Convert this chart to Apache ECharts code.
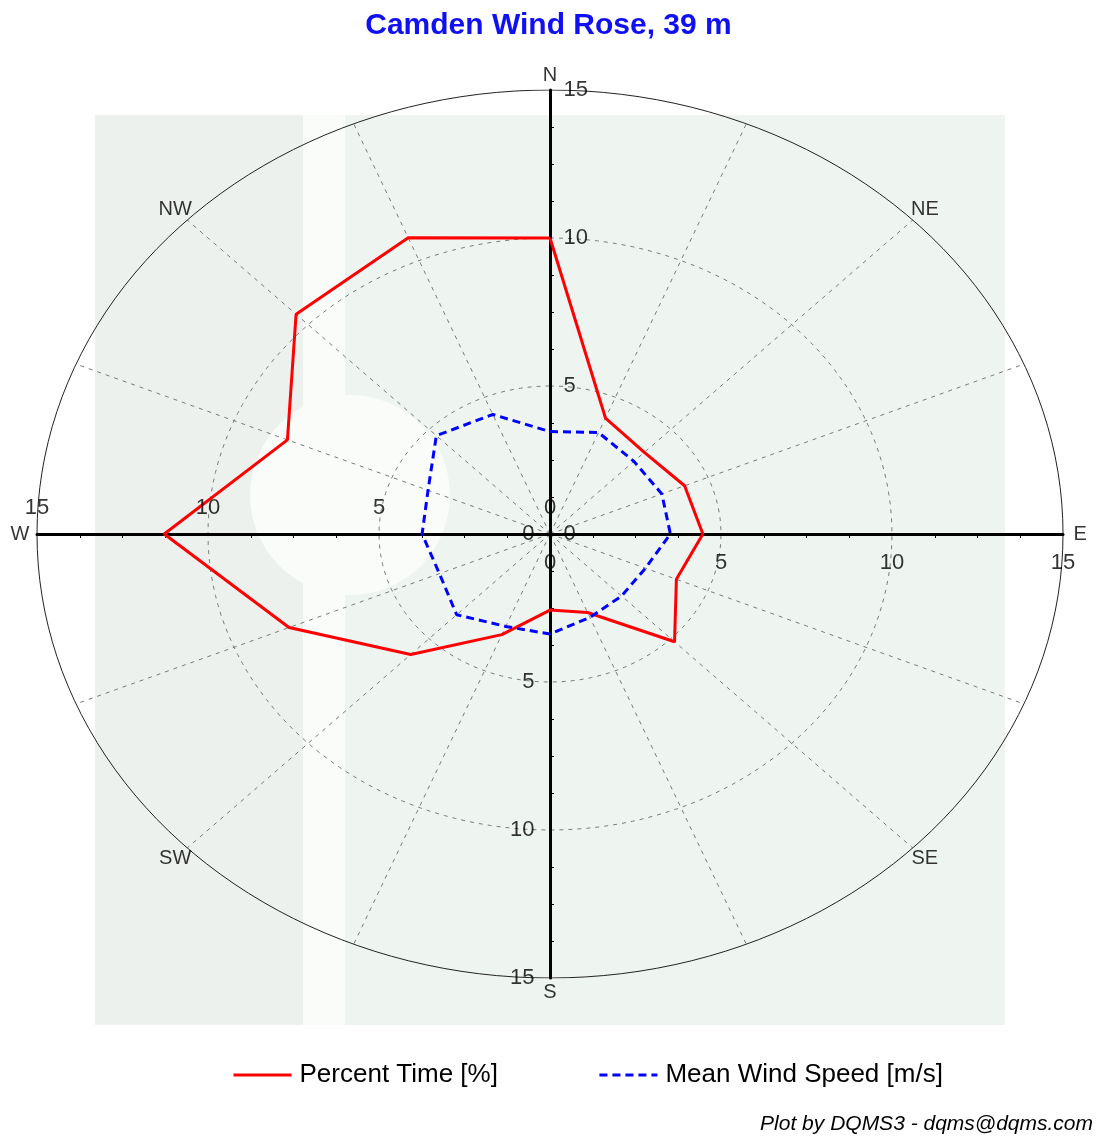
<!DOCTYPE html>
<html><head><meta charset="utf-8">
<script src="https://cdn.jsdelivr.net/npm/echarts@6/dist/echarts.min.js"></script>
<style>html,body{margin:0;padding:0;background:#fff}#c{width:1097px;height:1136px}</style>
</head><body><div id="c"></div>
<script>
// ---- data ----
const directions = ['N','NNE','NE','ENE','E','ESE','SE','SSE','S','SSW','SW','WSW','W','WNW','NW','NNW'];
const percentTime = [10.0, 4.24, 3.9, 4.26, 4.47, 4.0, 5.15, 2.87, 2.57, 3.68, 5.76, 8.26, 11.28, 8.31, 10.5, 10.83];
const meanSpeed   = [3.46, 3.71, 3.47, 3.54, 3.52, 3.02, 2.96, 3.05, 3.38, 3.38, 3.86, 3.5, 3.74, 3.86, 4.7, 4.37];
const ringValues = [5, 10, 15];
const tickValues = [0, 5, 10, 15];
const axisMax = 15;
const tickStep = 5;
const compassLabels = ['N','NE','E','SE','S','SW','W','NW'];
const seriesNames = ['Percent Time [%]', 'Mean Wind Speed [m/s]'];
const titleText = 'Camden Wind Rose, 39 m';
const footerText = 'Plot by DQMS3 - dqms@dqms.com';

// ---- helpers (compass bearing -> cartesian data units) ----
function toXY(r, deg) { const a = deg * Math.PI / 180; return [r * Math.sin(a), r * Math.cos(a)]; }
const step = 360 / directions.length;
function polygon(vals) { const p = vals.map((v, i) => toXY(v, i * step)); p.push(p[0]); return p; }
function ring(r) { const p = []; for (let d = 0; d <= 360; d += 2) p.push(toXY(r, d)); return p; }

const FONT = 'Liberation Sans, Arial, sans-serif';
const chart = echarts.init(document.getElementById('c'), null, { renderer: 'canvas' });

const ringSeries = ringValues.map(r => ({
  type: 'line', data: ring(r), symbol: 'none', silent: true, z: 1,
  lineStyle: r === axisMax ? { color: '#222', width: 1, type: 'solid' } : { color: '#7a7a7a', width: 1, type: [4, 5] }
}));

// tick labels along the four half-axes, placed through the axes' scales
const tickLabelSets = [
  { pos: 'bottom', dist: 17, xy: v => [v, 0] },
  { pos: 'top',    dist: 15, xy: v => [-v, 0] },
  { pos: 'right',  dist: 13, xy: v => [0, v] },
  { pos: 'left',   dist: 15, xy: v => [0, -v] }
];
const tickLabelSeries = tickLabelSets.map(s => ({
  type: 'scatter', silent: true, clip: false, symbolSize: 1, z: 6,
  itemStyle: { color: 'rgba(0,0,0,0)' },
  label: { show: true, position: s.pos, distance: s.dist, formatter: p => p.name,
    color: '#000', fontSize: 22, fontFamily: FONT },
  labelLayout: { hideOverlap: false },
  data: tickValues.map(v => ({ name: String(v), value: s.xy(v) }))
}));

const hiddenLabel = { show: false };

chart.setOption({
  animation: false,
  backgroundColor: '#ffffff',
  title: { text: titleText, left: 'center', top: 11, padding: 0,
    textStyle: { color: '#1010f4', fontSize: 30, fontWeight: 'bold', fontFamily: FONT } },
  grid: { left: 37, top: 90, width: 1026, height: 888, containLabel: false, outerBoundsMode: 'none' },
  xAxis: [
    { type: 'value', z: 3, min: -axisMax, max: axisMax, interval: tickStep, position: 'bottom',
      axisLine: { onZero: true, onZeroAxisIndex: 0, lineStyle: { color: '#000', width: 3 } },
      axisTick: { show: false },
      minorTick: { show: true, splitNumber: 4, length: 4, lineStyle: { color: '#000', width: 1 } },
      splitLine: { show: false }, minorSplitLine: { show: false }, axisLabel: hiddenLabel }
  ],
  yAxis: [
    { type: 'value', z: 3, min: -axisMax, max: axisMax, interval: tickStep, position: 'right',
      axisLine: { onZero: true, onZeroAxisIndex: 0, lineStyle: { color: '#000', width: 3 } },
      axisTick: { show: false },
      minorTick: { show: true, splitNumber: 4, length: 4, lineStyle: { color: '#000', width: 1 } },
      splitLine: { show: false }, minorSplitLine: { show: false }, axisLabel: hiddenLabel }
  ],
  legend: { data: seriesNames, left: 232, top: 1062, padding: 0, itemWidth: 58, itemHeight: 14, itemGap: 100,
    itemStyle: { opacity: 0 }, lineStyle: { width: 3 },
    textStyle: { fontSize: 26, color: '#000', fontFamily: FONT, padding: [0, 0, 0, 3] } },
  graphic: [
    { type: 'rect', z: -100, silent: true, shape: { x: 95, y: 115, width: 910, height: 910 }, style: { fill: '#eef5f1' } },
    { type: 'rect', z: -99, silent: true, shape: { x: 95, y: 115, width: 208, height: 910 }, style: { fill: '#edf1ee' } },
    { type: 'rect', z: -99, silent: true, shape: { x: 303, y: 115, width: 42, height: 910 }, style: { fill: '#fafcfa' } },
    { type: 'circle', z: -98, silent: true, shape: { cx: 350, cy: 495, r: 100 }, style: { fill: '#fafcfa' } },
    { type: 'text', z: 100, right: 4, top: 1114, silent: true,
      style: { text: footerText, font: 'italic 21px ' + FONT, fill: '#000' } }
  ],
  series: [
    ...ringSeries,
    { type: 'lines', coordinateSystem: 'cartesian2d', silent: true, z: 1,
      lineStyle: { color: '#7a7a7a', width: 1, type: [4, 5], opacity: 1 },
      data: directions.map((d, i) => ({ coords: [[0, 0], toXY(axisMax, i * step)] })) },
    ...tickLabelSeries,
    { type: 'scatter', silent: true, clip: false, symbolSize: 1, itemStyle: { color: 'rgba(0,0,0,0)' }, z: 5,
      label: { show: true, position: 'inside', formatter: p => p.name, color: '#000', fontSize: 20, fontFamily: FONT },
      labelLayout: { hideOverlap: false },
      data: compassLabels.map((d, i) => ({ name: d, value: toXY(axisMax + 0.5, i * 45) })) },
    { name: seriesNames[0], type: 'line', data: polygon(percentTime), symbol: 'none', z: 4,
      lineStyle: { color: '#ff0000', width: 3 }, itemStyle: { color: '#ff0000' } },
    { name: seriesNames[1], type: 'line', data: polygon(meanSpeed), symbol: 'none', z: 4,
      lineStyle: { color: '#0000ff', width: 3, type: [8, 5] }, itemStyle: { color: '#0000ff' } }
  ]
});
</script></body></html>
